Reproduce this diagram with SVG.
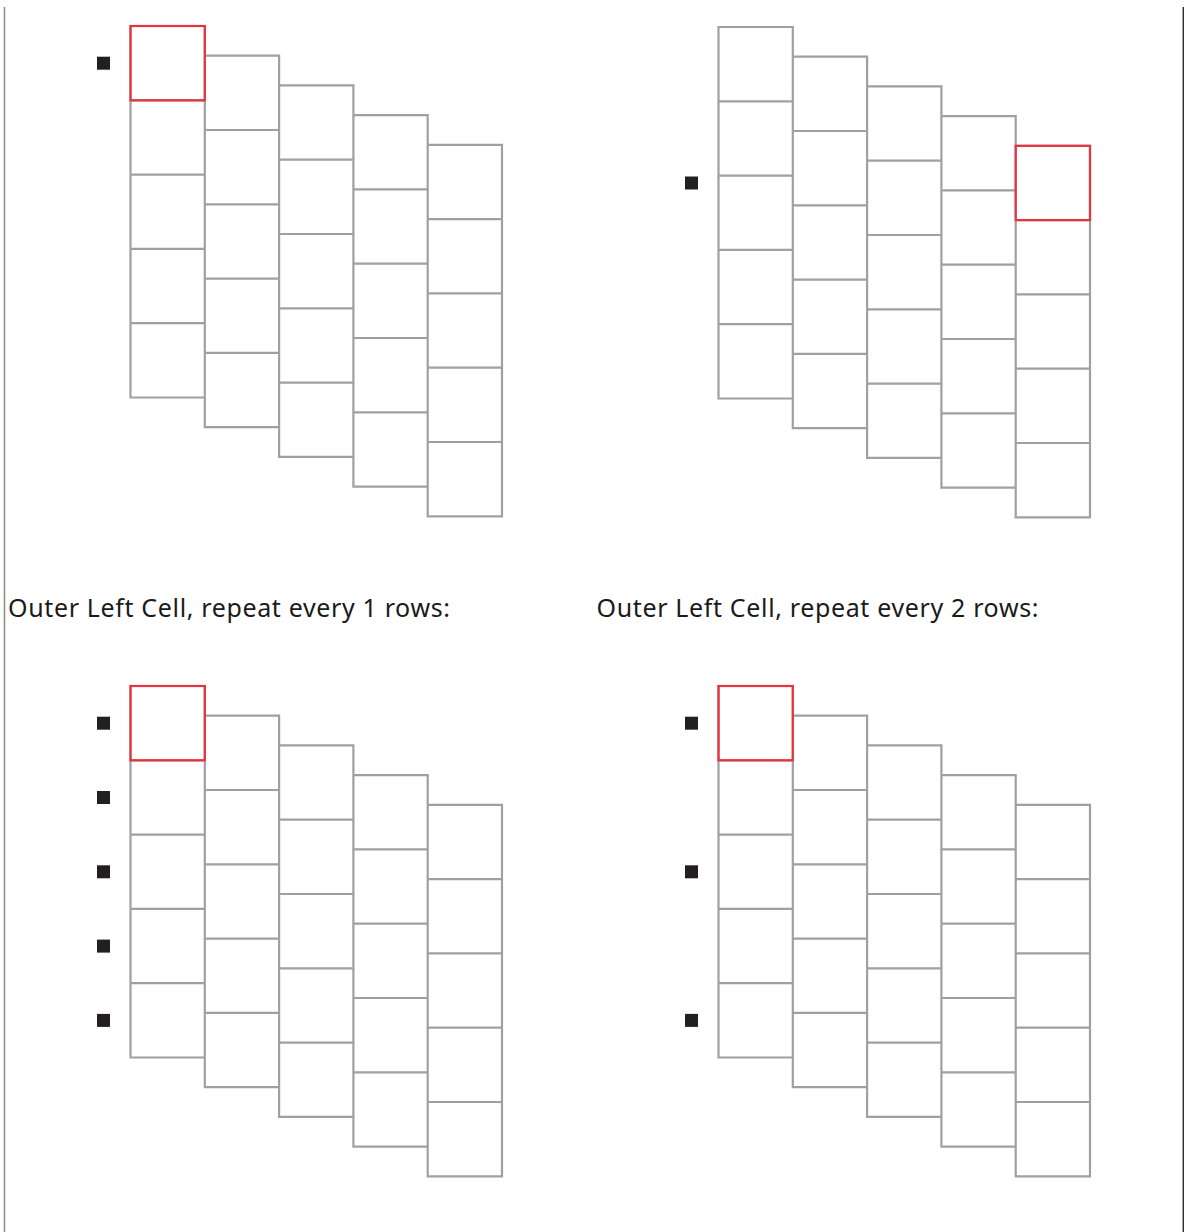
<svg xmlns="http://www.w3.org/2000/svg" xmlns:xlink="http://www.w3.org/1999/xlink" width="1184" height="1232" viewBox="0 0 1184 1232">
<style>
.grid{fill:none;stroke:#a0a0a2;stroke-width:2.2}
.sel{fill:none;stroke:#e8323c;stroke-width:2.2}
.bul{fill:#231f20}
.lbl{font-family:"Noto Sans","Open Sans",sans-serif;font-size:25px;fill:#1a1a1a}
</style>
<defs>
<path id="g" class="grid" d="M0,0 h74.3 v371.5 h-74.3 Z M0,74.3 h74.3 M0,148.6 h74.3 M0,222.9 h74.3 M0,297.2 h74.3 M74.3,29.7 h74.3 v371.5 h-74.3 Z M74.3,104 h74.3 M74.3,178.3 h74.3 M74.3,252.6 h74.3 M74.3,326.9 h74.3 M148.6,59.4 h74.3 v371.5 h-74.3 Z M148.6,133.7 h74.3 M148.6,208 h74.3 M148.6,282.3 h74.3 M148.6,356.6 h74.3 M222.9,89.1 h74.3 v371.5 h-74.3 Z M222.9,163.4 h74.3 M222.9,237.7 h74.3 M222.9,312 h74.3 M222.9,386.3 h74.3 M297.2,118.8 h74.3 v371.5 h-74.3 Z M297.2,193.1 h74.3 M297.2,267.4 h74.3 M297.2,341.7 h74.3 M297.2,416 h74.3"/>
</defs>
<rect width="1184" height="1232" fill="#fff"/>
<line x1="4.5" y1="7" x2="4.5" y2="1232" stroke="#8a8a8a" stroke-width="1.5"/>
<line x1="1183.3" y1="7" x2="1183.3" y2="1232" stroke="#333" stroke-width="1.5"/>
<g id="panel-top-left" transform="translate(130.5,26)">
<use xlink:href="#g"/>
<rect class="sel" x="0" y="0" width="74.3" height="74.3"/>
<rect class="bul" x="-33.5" y="30.7" width="13" height="13"/>
</g>
<g id="panel-top-right" transform="translate(718.5,27)">
<use xlink:href="#g"/>
<rect class="sel" x="297.2" y="118.8" width="74.3" height="74.3"/>
<rect class="bul" x="-33.5" y="149.5" width="13" height="13"/>
</g>
<g id="label-left">
<text class="lbl" x="8" y="617" textLength="442" lengthAdjust="spacing">Outer Left Cell, repeat every 1 rows:</text>
</g>
<g id="label-right">
<text class="lbl" x="596.5" y="617" textLength="442" lengthAdjust="spacing">Outer Left Cell, repeat every 2 rows:</text>
</g>
<g id="panel-bottom-left" transform="translate(130.5,686)">
<use xlink:href="#g"/>
<rect class="sel" x="0" y="0" width="74.3" height="74.3"/>
<rect class="bul" x="-33.5" y="30.7" width="13" height="13"/>
<rect class="bul" x="-33.5" y="105" width="13" height="13"/>
<rect class="bul" x="-33.5" y="179.3" width="13" height="13"/>
<rect class="bul" x="-33.5" y="253.6" width="13" height="13"/>
<rect class="bul" x="-33.5" y="327.9" width="13" height="13"/>
</g>
<g id="panel-bottom-right" transform="translate(718.5,686)">
<use xlink:href="#g"/>
<rect class="sel" x="0" y="0" width="74.3" height="74.3"/>
<rect class="bul" x="-33.5" y="30.7" width="13" height="13"/>
<rect class="bul" x="-33.5" y="179.3" width="13" height="13"/>
<rect class="bul" x="-33.5" y="327.9" width="13" height="13"/>
</g>
</svg>
